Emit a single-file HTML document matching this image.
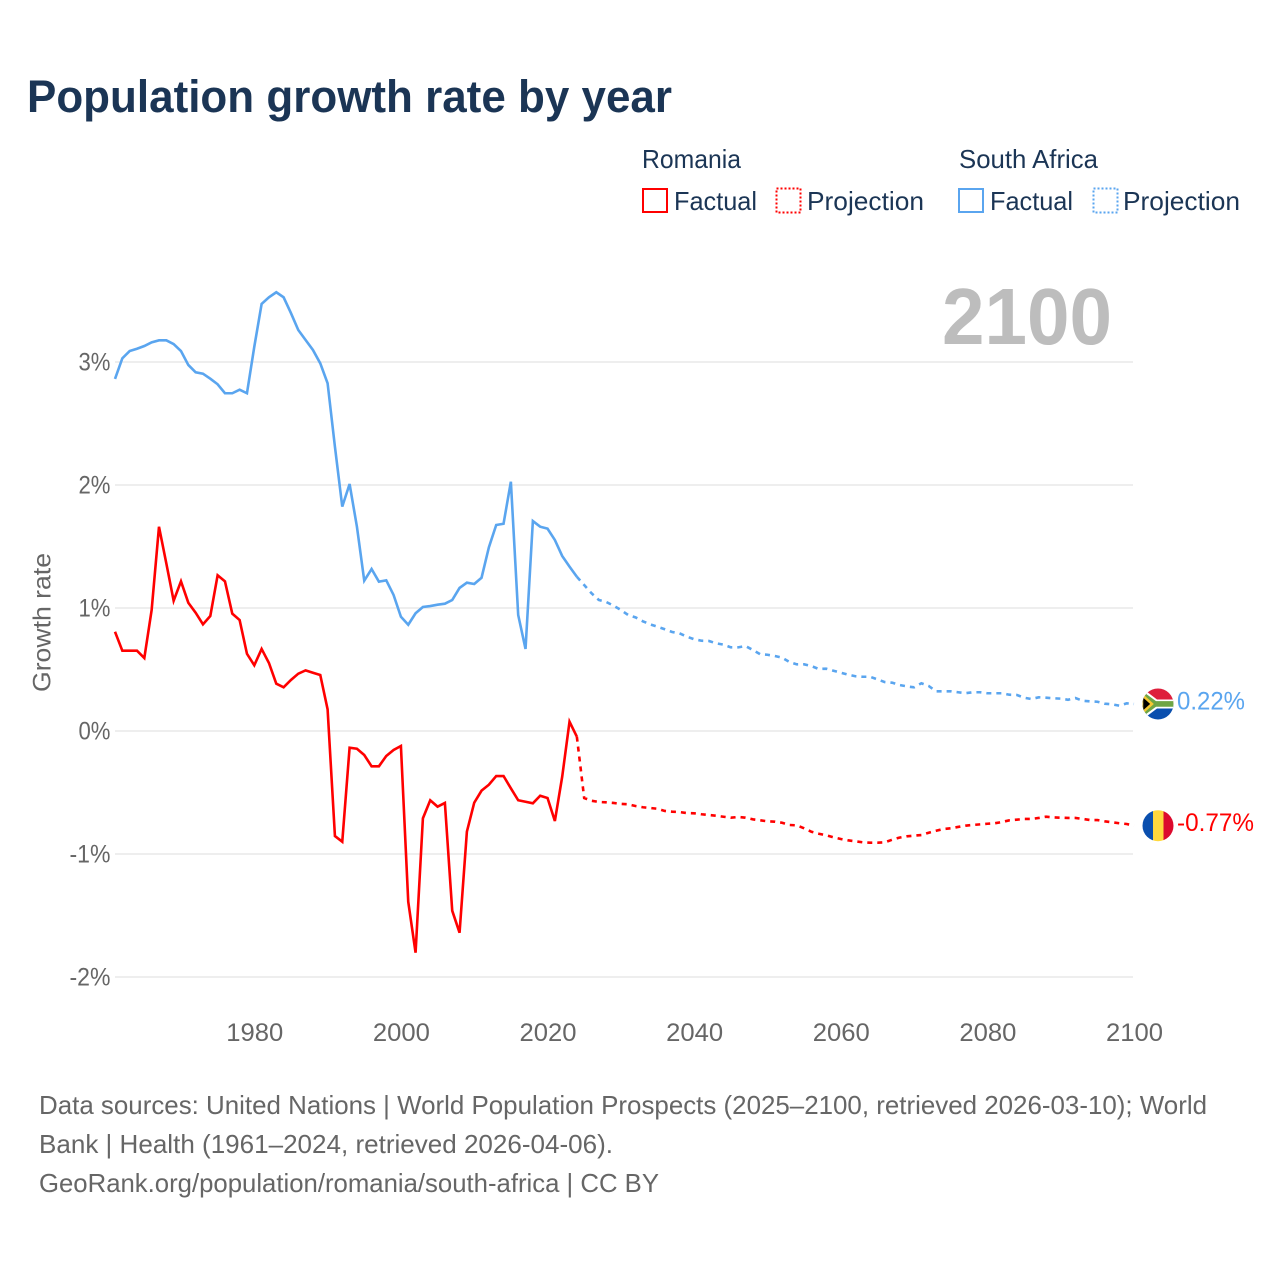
<!DOCTYPE html>
<html lang="en">
<head>
<meta charset="utf-8">
<title>Population growth rate by year</title>
<style>
html,body{margin:0;padding:0;background:#fff}
svg{display:block;font-family:"Liberation Sans",sans-serif}
</style>
</head>
<body>
<svg id="chart" width="1280" height="1280" viewBox="0 0 1280 1280" xmlns="http://www.w3.org/2000/svg">
<defs>
<clipPath id="flag-clip"><circle cx="0" cy="0" r="15.5"/></clipPath>
</defs>
<rect width="1280" height="1280" fill="#fff"/>
<text x="27" y="112" font-size="45" font-weight="700" fill="#1b3555" textLength="645" lengthAdjust="spacingAndGlyphs">Population growth rate by year</text>

<g fill="#1b3555" font-size="26">
<text x="642" y="168" textLength="99" lengthAdjust="spacingAndGlyphs">Romania</text>
<text x="959" y="168" textLength="139" lengthAdjust="spacingAndGlyphs">South Africa</text>
<rect x="643" y="189" width="24" height="23" fill="none" stroke="#ff0000" stroke-width="2"/>
<text x="674" y="210" textLength="83" lengthAdjust="spacingAndGlyphs">Factual</text>
<rect x="776.5" y="188.5" width="24" height="24" fill="none" stroke="#ff0000" stroke-width="2" stroke-dasharray="2 2"/>
<text x="807" y="210" textLength="117" lengthAdjust="spacingAndGlyphs">Projection</text>
<rect x="959" y="189" width="24" height="23" fill="none" stroke="#5aa5ef" stroke-width="2"/>
<text x="990" y="210" textLength="83" lengthAdjust="spacingAndGlyphs">Factual</text>
<rect x="1093.5" y="188.5" width="24" height="24" fill="none" stroke="#5aa5ef" stroke-width="2" stroke-dasharray="2 2"/>
<text x="1123" y="210" textLength="117" lengthAdjust="spacingAndGlyphs">Projection</text>
</g>

<g id="grid"></g>
<text transform="translate(50.5,692) rotate(-90)" font-size="25" fill="#666" textLength="139" lengthAdjust="spacingAndGlyphs">Growth rate</text>
<g id="yticks"></g>
<g id="xticks"></g>
<text x="942" y="344" font-size="80" font-weight="700" fill="#bdbdbd" textLength="170" lengthAdjust="spacingAndGlyphs">2100</text>
<g id="series"></g>

<g id="flag-sa">
<g clip-path="url(#flag-clip)">
<rect x="-16" y="-16" width="32" height="16" fill="#de1f3c"/>
<rect x="-16" y="0" width="32" height="16" fill="#0a4fae"/>
<path d="M-16,-16 L-1,-4.5 H16 V4.5 H-1 L-16,16 Z" fill="#fff"/>
<path d="M-16,-13 L-2,-2.8 H16 V2.8 H-2 L-16,13 Z" fill="#6ea544"/>
<path d="M-16,-9 L-6,0 L-16,9 Z" fill="#000" stroke="#f5c832" stroke-width="2.5"/>
</g>
</g>
<g id="flag-ro">
<g clip-path="url(#flag-clip)">
<rect x="-16" y="-16" width="11" height="32" fill="#0a4fae"/>
<rect x="-5" y="-16" width="10.5" height="32" fill="#ffd83d"/>
<rect x="5.5" y="-16" width="11" height="32" fill="#dc0a2d"/>
</g>
</g>
<text id="label-sa" x="1177" font-size="25" fill="#5aa5ef" textLength="68" lengthAdjust="spacingAndGlyphs"></text>
<text id="label-ro" x="1177" font-size="25" fill="#ff0000" textLength="77" lengthAdjust="spacingAndGlyphs"></text>

<g font-size="26" fill="#666">
<text x="39" y="1114" textLength="1168" lengthAdjust="spacingAndGlyphs">Data sources: United Nations | World Population Prospects (2025–2100, retrieved 2026-03-10); World</text>
<text x="39" y="1153" textLength="574" lengthAdjust="spacingAndGlyphs">Bank | Health (1961–2024, retrieved 2026-04-06).</text>
<text x="39" y="1192" textLength="620" lengthAdjust="spacingAndGlyphs">GeoRank.org/population/romania/south-africa | CC BY</text>
</g>
</svg>
<script>
const xTickYears = [1980, 2000, 2020, 2040, 2060, 2080, 2100];
const yTickValues = [3, 2, 1, 0, -1, -2];
const factualStartYear = 1961;
const projectionStartYear = 2025;

const saFactual = [
2.862,3.030,3.089,3.108,3.130,3.160,3.176,3.176,3.146,3.089,
2.976,2.916,2.905,2.864,2.819,2.746,2.746,2.775,2.746,3.124,
3.472,3.526,3.567,3.526,3.398,3.260,3.179,3.098,2.989,2.827,
2.311,1.824,2.008,1.661,1.222,1.317,1.214,1.225,1.106,0.929,
0.864,0.957,1.008,1.016,1.027,1.035,1.065,1.163,1.206,1.195,
1.246,1.493,1.675,1.685,2.027,0.943,0.667,1.707,1.661,1.645,
1.553,1.423,1.336,1.254];
const saProjection = [
1.187,1.120,1.065,1.049,1.019,0.984,0.943,0.924,0.892,0.867,
0.848,0.827,0.805,0.794,0.767,0.746,0.734,0.732,0.713,0.702,
0.680,0.680,0.691,0.659,0.624,0.620,0.610,0.596,0.561,0.542,
0.542,0.528,0.504,0.507,0.490,0.474,0.458,0.445,0.441,0.441,
0.420,0.398,0.393,0.374,0.363,0.355,0.388,0.366,0.323,0.323,
0.323,0.315,0.307,0.315,0.315,0.307,0.307,0.307,0.295,0.293,
0.271,0.260,0.274,0.271,0.266,0.263,0.254,0.268,0.246,0.241,
0.238,0.222,0.217,0.206,0.225,0.220];
const roFactual = [
0.807,0.653,0.653,0.653,0.593,0.984,1.661,1.363,1.059,1.217,
1.043,0.962,0.867,0.935,1.266,1.217,0.954,0.902,0.628,0.534,
0.667,0.553,0.385,0.355,0.415,0.466,0.493,0.474,0.455,0.176,
-0.854,-0.900,-0.136,-0.144,-0.195,-0.287,-0.287,-0.203,-0.154,-0.122,
-1.388,-1.802,-0.710,-0.563,-0.615,-0.585,-1.461,-1.640,-0.819,-0.583,
-0.485,-0.437,-0.366,-0.366,-0.466,-0.563,-0.575,-0.588,-0.526,-0.545,
-0.732,-0.372,0.076,-0.046];
const roProjection = [
-0.545,-0.567,-0.577,-0.580,-0.585,-0.593,-0.596,-0.610,-0.620,-0.626,
-0.632,-0.650,-0.656,-0.659,-0.667,-0.669,-0.677,-0.683,-0.689,-0.697,
-0.705,-0.699,-0.705,-0.718,-0.726,-0.734,-0.737,-0.746,-0.764,-0.767,
-0.791,-0.819,-0.835,-0.848,-0.864,-0.878,-0.889,-0.897,-0.905,-0.908,
-0.908,-0.905,-0.884,-0.867,-0.856,-0.851,-0.846,-0.827,-0.811,-0.797,
-0.791,-0.780,-0.770,-0.764,-0.759,-0.754,-0.750,-0.740,-0.726,-0.721,
-0.715,-0.715,-0.707,-0.697,-0.702,-0.705,-0.707,-0.707,-0.715,-0.724,
-0.724,-0.734,-0.742,-0.750,-0.756,-0.770];

const NS = 'http://www.w3.org/2000/svg';
function xScale(year) { return 115 + (year - 1961) * (1134 - 115) / 139; }
function yScale(value) { return 731 - value * 123; }

const gridLayer = document.getElementById('grid');
const yTickLayer = document.getElementById('yticks');
const xTickLayer = document.getElementById('xticks');
const seriesLayer = document.getElementById('series');

yTickValues.forEach(function (v) {
  const line = document.createElementNS(NS, 'line');
  
  
  line.setAttribute('x1', 115);
  line.setAttribute('x2', 1133);
  line.setAttribute('y1', yScale(v));
  line.setAttribute('y2', yScale(v));
  line.setAttribute('stroke', '#e9e9e9');
  line.setAttribute('stroke-width', '1.5');
  gridLayer.appendChild(line);

  const label = document.createElementNS(NS, 'text');
  
  
  const str = v + '%';
  label.textContent = str;
  label.setAttribute('x', 110.5);
  label.setAttribute('y', yScale(v) + 8.5);
  label.setAttribute('text-anchor', 'end');
  label.setAttribute('font-size', '25');
  label.setAttribute('fill', '#666');
  label.setAttribute('textLength', str.length === 2 ? 32 : 41);
  label.setAttribute('lengthAdjust', 'spacingAndGlyphs');
  yTickLayer.appendChild(label);
});

xTickYears.forEach(function (year) {
  const label = document.createElementNS(NS, 'text');
  
  
  label.textContent = String(year);
  label.setAttribute('x', xScale(year) + 0.5);
  label.setAttribute('y', 1041);
  label.setAttribute('text-anchor', 'middle');
  label.setAttribute('font-size', '25');
  label.setAttribute('fill', '#666');
  label.setAttribute('textLength', 57);
  label.setAttribute('lengthAdjust', 'spacingAndGlyphs');
  xTickLayer.appendChild(label);
});

function pathFrom(values, startYear, lead) {
  const pts = [];
  if (lead !== null) {
    pts.push(xScale(startYear - 1).toFixed(2) + ',' + yScale(lead).toFixed(2));
  }
  values.forEach(function (v, i) {
    pts.push(xScale(startYear + i).toFixed(2) + ',' + yScale(v).toFixed(2));
  });
  return 'M' + pts.join(' L');
}

function addSeriesPath(name, d, color, dashed) {
  const p = document.createElementNS(NS, 'path');
  
  
  p.setAttribute('d', d);
  p.setAttribute('fill', 'none');
  p.setAttribute('stroke', color);
  p.setAttribute('stroke-width', '2.6');
  p.setAttribute('stroke-linejoin', 'miter');
  if (dashed) { p.setAttribute('stroke-dasharray', '5 5'); }
  seriesLayer.appendChild(p);
}

addSeriesPath('south-africa-factual-line', pathFrom(saFactual, factualStartYear, null), '#5aa5ef', false);
addSeriesPath('south-africa-projection-line', pathFrom(saProjection, projectionStartYear, saFactual[saFactual.length - 1]), '#5aa5ef', true);
addSeriesPath('romania-factual-line', pathFrom(roFactual, factualStartYear, null), '#ff0000', false);
addSeriesPath('romania-projection-line', pathFrom(roProjection, projectionStartYear, roFactual[roFactual.length - 1]), '#ff0000', true);

const saLast = saProjection[saProjection.length - 1];
const roLast = roProjection[roProjection.length - 1];
document.getElementById('flag-sa').setAttribute('transform', 'translate(1158,' + yScale(saLast) + ')');
document.getElementById('flag-ro').setAttribute('transform', 'translate(1158,' + yScale(roLast) + ')');
const saLabel = document.getElementById('label-sa');
saLabel.textContent = saLast.toFixed(2) + '%';
saLabel.setAttribute('y', yScale(saLast) + 5.5);
const roLabel = document.getElementById('label-ro');
roLabel.textContent = roLast.toFixed(2) + '%';
roLabel.setAttribute('y', yScale(roLast) + 5.5);
</script>
</body>
</html>
